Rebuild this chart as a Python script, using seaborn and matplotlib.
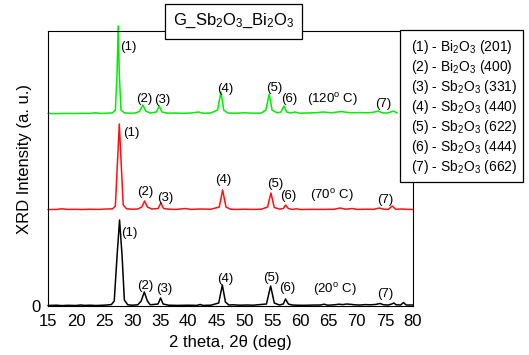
import matplotlib
matplotlib.use("Agg")
import matplotlib.pyplot as plt
import seaborn as sns
import pandas as pd
from matplotlib.patches import Rectangle

sns.set_theme(style="white")
plt.rcParams['font.family'] = ['Liberation Sans', 'DejaVu Sans']
plt.rcParams['mathtext.fontset'] = 'custom'
plt.rcParams['mathtext.rm'] = 'Liberation Sans'
plt.rcParams['mathtext.it'] = 'Liberation Sans'
plt.rcParams['text.color'] = 'black'
plt.rcParams['axes.labelcolor'] = 'black'

# ---- data ----
# 20 deg C sample (black), intensity relative to its own baseline
x_20 = [15, 16.5, 17.5, 18.5, 20, 20.8, 21.5, 22.5, 23.5, 24.5, 25.5, 26.3, 26.8, 27.3, 27.75, 28.2, 28.6, 29.2, 30,
        31.0, 31.6, 32.15, 32.7, 33.2, 34.6, 35.05, 35.5, 36.5, 38, 40, 41.5, 42.1, 42.6, 44, 45.4, 46.05, 46.6, 47.2,
        48.0, 48.5, 49.3, 50.5, 51.5, 53.9, 54.65, 55.3, 56.2, 56.9, 57.3, 57.8, 58.5, 59.3, 60.5, 62, 63.5, 64.2, 64.8,
        66, 66.8, 67.5, 68.2, 69, 69.6, 70.5, 71.5, 72.5, 73.4, 74.1, 74.8, 75.6, 76.2, 76.6, 77.0, 77.8, 78.3, 78.8, 80]
y_20 = [0.005, 0.008, 0.004, 0.007, 0.005, 0.010, 0.006, 0.008, 0.005, 0.007, 0.010, 0.015, 0.05, 0.50, 0.86, 0.50, 0.06, 0.012, 0.008,
        0.012, 0.05, 0.14, 0.05, 0.012, 0.02, 0.08, 0.02, 0.008, 0.006, 0.008, 0.006, 0.015, 0.006, 0.008, 0.03, 0.21, 0.04, 0.010,
        0.012, 0.010, 0.008, 0.010, 0.008, 0.02, 0.20, 0.03, 0.010, 0.02, 0.07, 0.02, 0.010, 0.008, 0.007, 0.009, 0.010, 0.018, 0.008,
        0.012, 0.018, 0.014, 0.020, 0.016, 0.012, 0.010, 0.014, 0.012, 0.016, 0.025, 0.012, 0.010, 0.020, 0.030, 0.012, 0.010, 0.035, 0.010, 0.010]

# 70 deg C sample (red)
x_70 = [15, 16.5, 17.5, 18.5, 20, 21, 22.5, 24, 25.5, 26.5, 27.0, 27.35, 27.7, 28.05, 28.4, 29, 30, 31.0, 31.7, 32.2, 32.7,
        33.5, 34.6, 35.1, 35.6, 36.5, 37.8, 39.5, 40.5, 42, 44, 45.5, 46.1, 46.7, 47.5, 48.5, 50, 51.5, 53, 54.1, 54.7, 55.3,
        56.3, 56.9, 57.3, 57.8, 58.5, 59.2, 60, 62, 64, 66, 67.0, 68, 69.2, 70, 71.5, 73, 74.0, 74.8, 75.6, 76.3, 76.9, 78, 78.8, 80]
y_70 = [0.005, 0.006, 0.012, 0.006, 0.007, 0.005, 0.008, 0.006, 0.010, 0.012, 0.04, 0.45, 0.86, 0.45, 0.05, 0.012, 0.008, 0.010, 0.03, 0.09, 0.03,
        0.010, 0.015, 0.07, 0.015, 0.008, 0.006, 0.015, 0.006, 0.010, 0.008, 0.03, 0.20, 0.03, 0.008, 0.006, 0.008, 0.006, 0.008, 0.03, 0.17, 0.025,
        0.008, 0.015, 0.05, 0.015, 0.006, 0.012, 0.005, 0.007, 0.006, 0.008, 0.020, 0.008, 0.015, 0.006, 0.008, 0.007, 0.020, 0.008, 0.006, 0.040, 0.008, 0.010, 0.007, 0.005]

# 120 deg C sample (green)
x_120 = [15, 16.5, 18, 19.5, 21, 22.5, 23.4, 24.5, 25.5, 26.5, 27.0, 27.3, 27.5, 27.7, 28.0, 28.6, 29.5, 30.5, 31.3, 31.9, 32.4,
         33.2, 34.3, 34.8, 35.3, 36.2, 37.5, 39, 40.5, 41.8, 42.6, 44, 45.2, 45.8, 46.3, 47, 48.5, 50, 51.5, 53, 53.8, 54.4, 54.9,
         55.8, 56.5, 57.0, 57.5, 58.2, 59.0, 59.8, 61, 62.5, 64.0, 65.5, 66.5, 67.3, 68, 69, 70.5, 72, 73.2, 73.8, 74.5, 75.5, 76.5, 77.2]
y_120 = [0.006, 0.004, 0.006, 0.005, 0.007, 0.006, 0.012, 0.006, 0.008, 0.012, 0.04, 0.40, 0.88, 0.40, 0.04, 0.012, 0.008, 0.010, 0.025, 0.09, 0.03,
         0.010, 0.020, 0.08, 0.020, 0.008, 0.010, 0.007, 0.010, 0.02, 0.008, 0.010, 0.04, 0.22, 0.04, 0.010, 0.008, 0.012, 0.008, 0.010, 0.04, 0.20, 0.04,
         0.012, 0.02, 0.08, 0.02, 0.010, 0.020, 0.008, 0.010, 0.012, 0.020, 0.012, 0.020, 0.025, 0.018, 0.012, 0.015, 0.012, 0.020, 0.030, 0.012, 0.010, 0.030, 0.010]

series_names = ["20° C", "70° C", "120° C"]
series_offsets = [0.0, 0.96, 1.92]
series_colors = ["#000000", "#ff1010", "#00ee00"]

# peak label positions (2theta, height) per series
label_texts = ["(1)", "(2)", "(3)", "(4)", "(5)", "(6)", "(7)"]
lab_x_20 = [29.4, 32.4, 35.7, 46.5, 54.7, 57.6, 75.0]
lab_y_20 = [0.73, 0.20, 0.17, 0.27, 0.28, 0.18, 0.12]
lab_x_70 = [29.8, 32.4, 35.9, 46.2, 55.4, 57.8, 75.1]
lab_y_70 = [1.73, 1.14, 1.08, 1.26, 1.22, 1.10, 1.06]
lab_x_120 = [29.3, 32.2, 35.35, 46.6, 55.3, 57.9, 74.7]
lab_y_120 = [2.59, 2.07, 2.06, 2.17, 2.18, 2.07, 2.02]
temp_x = [66.1, 65.6, 65.7]
temp_y = [0.17, 1.11, 2.07]
temp_labels = ["(20$^{\\mathrm{o}}$ C)", "(70$^{\\mathrm{o}}$ C)", "(120$^{\\mathrm{o}}$ C)"]

legend_lines = ["(1) - Bi$_2$O$_3$ (201)", "(2) - Bi$_2$O$_3$ (400)", "(3) - Sb$_2$O$_3$ (331)",
                "(4) - Sb$_2$O$_3$ (440)", "(5) - Sb$_2$O$_3$ (622)", "(6) - Sb$_2$O$_3$ (444)",
                "(7) - Sb$_2$O$_3$ (662)"]

x_ticks = [15, 20, 25, 30, 35, 40, 45, 50, 55, 60, 65, 70, 75, 80]

# ---- build table ----
frames = []
for name, xs, ys, off in zip(series_names, [x_20, x_70, x_120], [y_20, y_70, y_120], series_offsets):
    frames.append(pd.DataFrame({"two_theta": xs, "intensity": [v + off for v in ys], "sample": name}))
df = pd.concat(frames, ignore_index=True)

fig = plt.figure(figsize=(5.29, 3.55), dpi=100)
ax = fig.add_axes([0.0907, 0.138, 0.69, 0.7746])

sns.lineplot(data=df, x="two_theta", y="intensity", hue="sample", palette=series_colors,
             hue_order=series_names, sort=False, estimator=None, lw=1.1, legend=False, ax=ax)
for ln in ax.lines:
    ln.set_clip_on(False)

ax.set_xlim(15, 80)
ax.set_ylim(0, 2.75)
ax.set_xticks(x_ticks)
ax.set_xticklabels([str(t) for t in x_ticks])
ax.set_yticks([0, 1.45])
ax.set_yticklabels(["0", ""])
ax.tick_params(direction="in", length=3, width=0.8, labelsize=12, colors="black")
ax.tick_params(axis="x", pad=6)
ax.tick_params(axis="y", pad=5)
for s in ax.spines.values():
    s.set_color("black")
    s.set_linewidth(0.8)
ax.set_xlabel("2 theta, 2\u03b8 (deg)", fontsize=12, labelpad=4)
ax.set_ylabel("XRD Intensity (a. u.)", fontsize=12, labelpad=4)
ax.yaxis.set_label_coords(-0.044, 0.535)

for lx, ly in [(lab_x_20, lab_y_20), (lab_x_70, lab_y_70), (lab_x_120, lab_y_120)]:
    for t, xv, yv in zip(label_texts, lx, ly):
        ax.text(xv, yv, t, fontsize=9.5, ha="center", va="center", color="black")
for t, xv, yv in zip(temp_labels, temp_x, temp_y):
    ax.text(xv, yv, t, fontsize=9.5, ha="center", va="center", color="black")

# title box
fig.patches.append(Rectangle((165 / 529, 1 - 39 / 355), 137 / 529, 35 / 355, transform=fig.transFigure,
                             fc="white", ec="black", lw=0.9, zorder=5))
fig.text(233.5 / 529, 1 - 21 / 355, "G_Sb$_2$O$_3$_Bi$_2$O$_3$", fontsize=12, ha="center", va="center",
         color="black", zorder=6)

# legend box
fig.patches.append(Rectangle((400 / 529, 1 - 182 / 355), 123 / 529, 152 / 355, transform=fig.transFigure,
                             fc="white", ec="black", lw=0.9, zorder=5))
for i, t in enumerate(legend_lines):
    fig.text(411 / 529, 1 - (47 + 20 * i) / 355, t, fontsize=10, ha="left", va="center", color="black", zorder=6)

fig.savefig("out.png", dpi=100)
